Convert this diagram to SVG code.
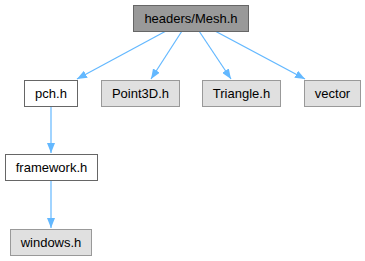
<svg xmlns="http://www.w3.org/2000/svg" width="365" height="261" viewBox="0 0 365 261">
<style>
  text { font-family: "Liberation Sans", Arial, sans-serif; font-size: 13px; text-anchor: middle; fill: #000; }
  .root rect { fill: #999999; stroke: #666666; stroke-width: 1; }
  .file rect { fill: #ffffff; stroke: #666666; stroke-width: 1; }
  .ext rect { fill: #e0e0e0; stroke: #999999; stroke-width: 1; }
  .edges path { fill: none; stroke: #63b8ff; stroke-width: 1.2; }
</style>
<defs>
  <marker id="arrow" viewBox="0 0 10 8" refX="10" refY="4" markerWidth="10" markerHeight="8" markerUnits="userSpaceOnUse" orient="auto">
    <path d="M0,0 L10,4 L0,8 Z" fill="#63b8ff"/>
  </marker>
</defs>
<rect width="365" height="261" fill="#ffffff"/>
<g class="edges">
  <path d="M166,31 L77,79" marker-end="url(#arrow)"/>
  <path d="M182,31 L151,79" marker-end="url(#arrow)"/>
  <path d="M199,31 L231,79" marker-end="url(#arrow)"/>
  <path d="M215,31 L305,79" marker-end="url(#arrow)"/>
  <path d="M51,106 L51,153" marker-end="url(#arrow)"/>
  <path d="M51,181 L51,228" marker-end="url(#arrow)"/>
</g>
<g id="node-mesh" class="root">
  <rect x="133.5" y="5.5" width="115" height="26"/>
  <text x="191" y="23">headers/Mesh.h</text>
</g>
<g id="node-pch" class="file">
  <rect x="24.5" y="80.5" width="53" height="26"/>
  <text x="51" y="98">pch.h</text>
</g>
<g id="node-point3d" class="ext">
  <rect x="101.5" y="80.5" width="78" height="26"/>
  <text x="140.5" y="98">Point3D.h</text>
</g>
<g id="node-triangle" class="ext">
  <rect x="202.5" y="80.5" width="78" height="26"/>
  <text x="241.5" y="98">Triangle.h</text>
</g>
<g id="node-vector" class="ext">
  <rect x="304.5" y="80.5" width="56" height="26"/>
  <text x="332.5" y="98">vector</text>
</g>
<g id="node-framework" class="file">
  <rect x="5.5" y="154.5" width="92" height="26"/>
  <text x="51.5" y="172">framework.h</text>
</g>
<g id="node-windows" class="ext">
  <rect x="10.5" y="229.5" width="81" height="26"/>
  <text x="51" y="247">windows.h</text>
</g>
</svg>
